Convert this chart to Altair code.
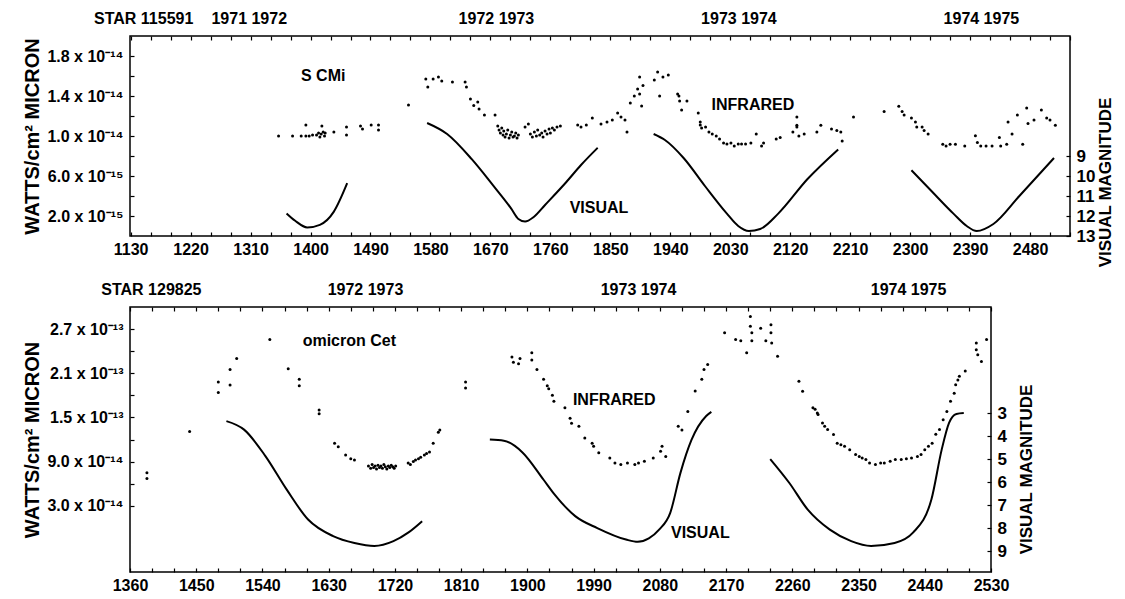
import json
import altair as alt
import pandas as pd

FONT = "Liberation Sans"

# ------------------------------------------------------------------ S CMi (STAR 115591)
top_ir_day = [1352, 1373, 1386, 1393, 1393, 1398, 1403, 1409, 1412, 1414, 1416, 1417, 1419, 1421, 1422,
              1435, 1454, 1454, 1475, 1478, 1491, 1502, 1502, 1547,
              1573, 1576, 1584, 1592, 1597, 1613, 1632, 1634, 1640, 1645, 1651, 1653, 1661, 1677,
              1681, 1683, 1685, 1687, 1689, 1690, 1692, 1694, 1696, 1698, 1700, 1702, 1704, 1706, 1708, 1710, 1712,
              1722, 1727, 1730, 1733, 1736, 1739, 1741, 1744, 1747, 1749, 1752, 1755, 1758, 1760, 1763, 1766, 1770, 1775,
              1801, 1806, 1814, 1823, 1836, 1845, 1853, 1861, 1866, 1872, 1875,
              1880, 1886, 1891, 1894, 1894, 1897, 1899, 1916, 1921, 1924, 1929, 1937,
              1951, 1953, 1954, 1957, 1965,
              1982, 1985, 1985, 1987, 1993, 1998, 2003, 2009, 2014, 2020, 2025, 2031, 2036, 2042, 2047, 2053, 2061, 2069, 2077, 2080,
              2099, 2105, 2124, 2130, 2130, 2130, 2133, 2141, 2160, 2166, 2182, 2190, 2196, 2198, 2215,
              2261, 2283, 2288, 2291, 2302, 2308, 2310, 2318, 2321, 2327, 2349, 2354, 2360, 2368, 2382,
              2398, 2401, 2406, 2414, 2423, 2434, 2436, 2445, 2447, 2453, 2461, 2469, 2475, 2477, 2486, 2497, 2505, 2510, 2518]
top_ir_flux = [10.0, 10.0, 10.0, 10.0, 11.1, 10.0, 10.1, 10.1, 10.3, 9.9, 10.2, 11.0, 10.4, 10.0, 10.3,
               10.4, 10.9, 10.1, 11.0, 10.7, 11.1, 11.1, 10.6, 13.1,
               15.7, 14.9, 15.7, 15.9, 15.5, 15.4, 15.4, 14.9, 13.7, 13.05, 13.4, 12.7, 12.1, 12.1,
               11.0, 10.6, 10.3, 10.8, 10.1, 10.5, 9.9, 10.2, 10.6, 9.8, 10.1, 10.4, 9.9, 10.0, 10.3, 9.8, 10.1,
               10.9, 11.2, 10.2, 9.9, 10.4, 10.0, 10.6, 10.1, 10.3, 9.9, 10.5, 10.2, 10.7, 10.3, 10.8, 10.6, 10.9, 11.0,
               11.1, 10.9, 11.1, 11.8, 11.2, 11.4, 11.6, 12.3, 11.9, 11.6, 10.4,
               13.3, 14.0, 14.7, 15.9, 14.2, 13.0, 15.05, 15.6, 16.4, 14.0, 15.9, 16.1,
               14.2, 14.0, 13.5, 12.6, 13.5,
               12.3, 11.4, 11.1, 10.8, 10.9, 10.4, 10.2, 10.0, 9.7, 9.3, 9.2, 9.3, 8.99, 9.2, 9.2, 9.2, 9.3, 10.2, 8.99, 9.3,
               9.7, 9.86, 10.4, 10.9, 11.9, 11.07, 10.0, 10.2, 10.4, 11.07, 10.7, 10.55, 10.4, 9.5, 11.9,
               12.45, 12.98, 12.45, 12.1, 11.8, 11.4, 10.9, 10.9, 10.55, 10.2, 9.17, 9.0, 9.17, 9.17, 9.0,
               10.03, 9.34, 9.0, 9.0, 9.0, 9.86, 9.0, 9.17, 11.4, 10.2, 12.1, 9.17, 12.8, 11.25, 11.6, 12.6, 11.8, 11.6, 11.07]
top_vis_seg = ["A"] * 6 + ["B"] * 12 + ["C"] * 11 + ["D"] * 8
top_vis_day = [1364, 1377, 1395, 1414, 1435, 1455,
               1575, 1605, 1642, 1674, 1701, 1712, 1722, 1735, 1752, 1784, 1806, 1831,
               1915, 1932, 1960, 1992, 2025, 2042, 2058, 2075, 2102, 2146, 2192,
               2302, 2332, 2365, 2385, 2400, 2425, 2464, 2516]
top_vis_mag = [11.87, 12.24, 12.57, 12.44, 11.78, 10.36,
               7.35, 7.9, 9.16, 10.47, 11.62, 12.15, 12.28, 12.05, 11.45, 10.3, 9.45, 8.59,
               7.9, 8.2, 9.1, 10.5, 11.88, 12.5, 12.75, 12.65, 11.88, 10.15, 8.67,
               9.71, 10.75, 11.88, 12.5, 12.75, 12.4, 11.0, 9.1]
top_year_day = [1308, 1679, 2043, 2407]
top_year_text = ["1971 1972", "1972 1973", "1973 1974", "1974 1975"]
top_star_day = [1075]
top_star_text = ["STAR 115591"]
top_note_text = ["S CMi", "INFRARED", "VISUAL"]
top_note_day = [1419, 2064, 1833]
top_note_flux = [16.0, 13.1, 2.8]
top_x_label_days = [1130, 1220, 1310, 1400, 1490, 1580, 1670, 1760, 1850, 1940, 2030, 2120, 2210, 2300, 2390, 2480]
top_x_tick_days = list(range(1130, 2541, 30))
top_y_tick_vals = [2, 4, 6, 8, 10, 12, 14, 16, 18]
top_y_label_vals = [2, 6, 10, 14, 18]
top_y_label_text = ["2.0 x 10⁻¹⁵", "6.0 x 10⁻¹⁵", "1.0 x 10⁻¹⁴", "1.4 x 10⁻¹⁴", "1.8 x 10⁻¹⁴"]
top_mag_vals = [9, 10, 11, 12, 13]

# ------------------------------------------------------------------ omicron Cet (STAR 129825)
bot_ir_day = [1383, 1383, 1441, 1480, 1480, 1496, 1496, 1505, 1550, 1575, 1590, 1590, 1617, 1617,
              1638, 1643, 1653, 1660, 1665,
              1684, 1687, 1689, 1691, 1693, 1695, 1697, 1699, 1701, 1703, 1705, 1707, 1709, 1711, 1713, 1715, 1717, 1719, 1721,
              1738, 1741, 1745, 1748, 1752, 1755, 1760, 1763, 1767, 1772, 1779, 1781,
              1816, 1816,
              1879, 1881, 1888, 1890, 1906, 1906, 1913, 1922, 1927, 1929, 1934,
              1936, 1951, 1958, 1960, 1970, 1978, 1988, 1990, 1997, 2012, 2019, 2027, 2036, 2046, 2051, 2059, 2071,
              2081, 2083, 2088, 2105, 2110, 2118, 2128, 2137, 2140, 2145,
              2168, 2183, 2190, 2198, 2203, 2203, 2205, 2205, 2217, 2224, 2231, 2231, 2232, 2240,
              2269, 2274, 2288, 2291, 2294, 2295, 2301, 2304, 2308, 2316, 2321, 2326, 2331, 2338, 2346, 2351, 2355,
              2360, 2365, 2373, 2380, 2385, 2393, 2400, 2408, 2415, 2422, 2430, 2435, 2440, 2445, 2450, 2455, 2460,
              2465, 2470, 2475, 2480, 2482, 2485, 2487, 2495, 2510, 2510, 2512, 2517, 2524]
bot_ir_flux = [7.5, 6.7, 13.1, 19.8, 18.4, 21.5, 19.4, 23.0, 25.6, 21.6, 20.2, 19.3, 16.0, 15.5,
               11.5, 11.0, 9.9, 9.4, 9.2,
               8.4, 8.1, 8.6, 8.2, 8.4, 8.0, 8.5, 8.2, 8.4, 8.1, 8.6, 8.3, 8.0, 8.4, 8.2, 8.5, 8.3, 8.1, 8.4,
               8.8, 8.6, 9.0, 9.2, 9.4, 9.6, 9.9, 10.1, 10.3, 11.5, 13.0, 13.3,
               19.8, 19.0,
               23.2, 22.5, 22.3, 23.0, 23.8, 22.8, 21.5, 20.2, 19.3, 18.9, 18.0,
               17.2, 16.3, 14.9, 14.2, 13.8, 12.2, 11.5, 11.08, 10.2, 9.5, 8.8, 8.6, 8.8, 8.6, 8.8, 9.05, 9.5,
               10.4, 11.08, 9.7, 13.8, 13.3, 15.8, 18.6, 20.2, 21.5, 22.2,
               26.5, 25.6, 25.4, 23.8, 28.7, 27.4, 26.5, 25.4, 27.1, 25.4, 27.6, 26.5, 25.1, 23.3,
               19.9, 18.55, 16.3, 16.1, 15.6, 15.4, 14.25, 13.8, 13.35, 12.67, 11.5, 11.3, 11.1, 10.6, 9.95, 9.7, 9.5,
               9.3, 8.8, 8.6, 8.8, 8.8, 9.05, 9.3, 9.3, 9.4, 9.5, 9.7, 9.95, 10.6, 11.1, 11.5, 12.7, 13.35,
               14.7, 15.8, 17.2, 18.3, 19.45, 20.1, 20.6, 21.3, 25.1, 24.2, 23.5, 22.6, 25.6]
bot_vis_seg = ["E"] * 11 + ["F"] * 16 + ["G"] * 13
bot_vis_day = [1491, 1515, 1544, 1573, 1602, 1636, 1665, 1692, 1718, 1738, 1757,
               1849, 1868, 1893, 1922, 1936, 1965, 1995, 2034, 2050, 2065, 2079, 2094, 2108, 2123, 2143, 2150,
               2230, 2256, 2281, 2311, 2340, 2367, 2399, 2424, 2449, 2463, 2473, 2483, 2493]
bot_vis_mag = [3.35, 3.72, 4.87, 6.33, 7.63, 8.35, 8.65, 8.78, 8.57, 8.2, 7.7,
               4.15, 4.2, 4.7, 5.9, 6.5, 7.48, 8.0, 8.5, 8.6, 8.45, 8.07, 7.35, 5.6, 4.17, 3.13, 2.95,
               5.0, 6.04, 7.2, 8.07, 8.57, 8.78, 8.65, 8.2, 6.76, 4.59, 3.43, 3.04, 3.0]
bot_year_day = [1680, 2051, 2418]
bot_year_text = ["1972 1973", "1973 1974", "1974 1975"]
bot_star_day = [1321]
bot_star_text = ["STAR 129825"]
bot_note_text = ["omicron Cet", "INFRARED", "VISUAL"]
bot_note_day = [1658, 2018, 2135]
bot_note_flux = [25.4, 17.4, -0.7]
bot_x_label_days = [1360, 1450, 1540, 1630, 1720, 1810, 1900, 1990, 2080, 2170, 2260, 2350, 2440, 2530]
bot_x_tick_days = list(range(1360, 2531, 30))
bot_y_tick_vals = [3, 6, 9, 12, 15, 18, 21, 24, 27]
bot_y_label_vals = [3, 9, 15, 21, 27]
bot_y_label_text = ["3.0 x 10⁻¹⁴", "9.0 x 10⁻¹⁴", "1.5 x 10⁻¹³", "2.1 x 10⁻¹³", "2.7 x 10⁻¹³"]
bot_mag_vals = [3, 4, 5, 6, 7, 8, 9]


def y_label_expr(vals, texts):
    expr = "''"
    for v, t in zip(vals, texts):
        expr = f"datum.value == {v} ? '{t}' : ({expr})"
    return expr


def panel(ir_day, ir_flux, vis_seg, vis_day, vis_mag, year_day, year_text, star_day, star_text,
          note_text, note_day, note_flux, xlab, xtick, ytick, ylab_v, ylab_t, mag_vals,
          xdom, ydom, mdom, width, height, mag_title_y):
    ir = pd.DataFrame({"day": ir_day, "flux": ir_flux})
    vis = pd.DataFrame({"seg": vis_seg, "day": vis_day, "mag": vis_mag})
    notes = pd.DataFrame({"day": note_day, "flux": note_flux, "text": note_text})
    years = pd.DataFrame({"day": year_day, "text": year_text})
    star = pd.DataFrame({"day": star_day, "text": star_text})

    xs = alt.Scale(domain=xdom, nice=False, zero=False)
    ys = alt.Scale(domain=ydom, nice=False, zero=False)
    ms = alt.Scale(domain=mdom, nice=False, zero=False)
    x_expr = "indexof(%s, datum.value) >= 0 ? format(datum.value, 'd') : ''" % json.dumps(xlab)

    common = dict(labelFont=FONT, titleFont=FONT, labelFontWeight="bold", titleFontWeight="bold",
                  labelColor="black", titleColor="black", tickColor="black", tickWidth=1.2,
                  domain=False, grid=False, offset=-4, tickSize=4, labelFlush=False, labelOverlap=False)

    pts = alt.Chart(ir).mark_circle(size=9, color="black", opacity=1).encode(
        x=alt.X("day:Q", scale=xs, axis=alt.Axis(
            orient="bottom", values=xtick, labelExpr=x_expr, title=None, labelPadding=5,
            labelFontSize=16, **common)),
        y=alt.Y("flux:Q", scale=ys, axis=alt.Axis(
            orient="left", values=ytick, labelExpr=y_label_expr(ylab_v, ylab_t),
            title="WATTS/cm² MICRON", labelPadding=7, labelFontSize=16, titleFontSize=20,
            titlePadding=4, **common)),
    )
    line = alt.Chart(vis).mark_line(color="black", strokeWidth=2, interpolate="monotone").encode(
        x=alt.X("day:Q", scale=xs, axis=alt.Axis(
            orient="top", values=xtick, labels=False, title=None, **common)),
        y=alt.Y("mag:Q", scale=ms, axis=alt.Axis(
            orient="right", values=mag_vals, format="d", title="VISUAL MAGNITUDE",
            titleAngle=270, titleBaseline="middle", titleX=39, titleY=mag_title_y,
            titleFontSize=17, labelPadding=6, labelFontSize=17, **common)),
        detail="seg:N",
    )
    txt = dict(font=FONT, fontSize=16, fontWeight="bold", color="black", baseline="middle")
    note = alt.Chart(notes).mark_text(align="center", **txt).encode(
        x=alt.X("day:Q", scale=xs, axis=None),
        y=alt.Y("flux:Q", scale=ys, axis=None),
        text="text:N",
    )
    yr = alt.Chart(years).mark_text(align="center", **txt).encode(
        x=alt.X("day:Q", scale=xs, axis=None), y=alt.value(-17), text="text:N")
    st = alt.Chart(star).mark_text(align="left", **txt).encode(
        x=alt.X("day:Q", scale=xs, axis=None), y=alt.value(-17), text="text:N")
    return alt.layer(pts, line, note, yr, st).resolve_scale(y="independent").resolve_axis(
        x="independent", y="independent").properties(width=width, height=height)


top = panel(top_ir_day, top_ir_flux, top_vis_seg, top_vis_day, top_vis_mag, top_year_day, top_year_text,
            top_star_day, top_star_text, top_note_text, top_note_day, top_note_flux,
            top_x_label_days, top_x_tick_days, top_y_tick_vals, top_y_label_vals, top_y_label_text,
            top_mag_vals, [1129, 2540], [0, 20], [13, 3], 940, 200, 146)
bot = panel(bot_ir_day, bot_ir_flux, bot_vis_seg, bot_vis_day, bot_vis_mag, bot_year_day, bot_year_text,
            bot_star_day, bot_star_text, bot_note_text, bot_note_day, bot_note_flux,
            bot_x_label_days, bot_x_tick_days, bot_y_tick_vals, bot_y_label_vals, bot_y_label_text,
            bot_mag_vals, [1360, 2530], [-6, 30], [9.91, -1.61], 861, 265, 162)

chart = alt.vconcat(top, bot, spacing=13).configure(
    background="white", padding={"left": 14, "right": 0, "top": 2, "bottom": 0}
).configure_view(stroke="black", strokeWidth=1.5)

chart.save("out.html", embed_options={"renderer": "svg", "actions": False})
